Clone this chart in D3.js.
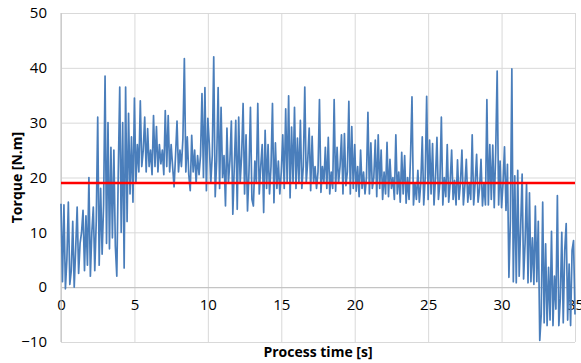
<!DOCTYPE html>
<html>
<head>
<meta charset="utf-8">
<script src="https://cdn.jsdelivr.net/npm/d3@7"></script>
<style>
  html, body { margin: 0; padding: 0; background: #fff; }
  svg { display: block; }
  text { font-family: "Open Sans", "Liberation Sans", sans-serif; fill: #000; }
</style>
</head>
<body>
<svg id="chart" width="581" height="363"></svg>
<script>
// ---- data ----
const sampleStep = 0.1; // seconds between samples
const torque = [
  15.2, 1, 15, -0.3, 5, 15.5, 0.5, 3, 12, 0,
  7, 14.6, 2.5, 8, 10, 14, 3, 13, 4, 20,
  2, 10, 14.6, 3, 12, 31, 4, 18, 6, 15,
  38.5, 8, 30, 7, 25.5, 9, 25, 7.5, 2, 21,
  36.5, 10, 30, 3.5, 36.5, 12, 31.7, 17, 27.4, 15.5,
  34.5, 19, 26, 21, 34, 22, 25, 31, 21, 28.9,
  22, 25, 20.5, 31.3, 22, 29.3, 21, 26, 22.5, 25,
  20.5, 32.2, 22, 31.3, 21, 26, 22, 18.3, 24, 30.3,
  21, 25, 22, 27, 41.7, 21, 27.4, 20.5, 17.6, 27.7,
  21, 25, 19, 24, 20.5, 24, 35.3, 20, 36.4, 17.6,
  30.8, 26, 19, 24, 42, 16.5, 23, 36.4, 18, 32.8,
  20, 24, 14.8, 29, 19, 23, 30.3, 13.3, 22, 30.4,
  14.2, 31, 19, 24, 33.5, 17, 27.8, 13.9, 21, 32.8,
  16, 14.8, 23, 19, 33.5, 17, 22, 26, 13.6, 28.6,
  18, 26, 17, 22, 33.5, 15.4, 26.3, 18, 23, 17,
  21, 27.8, 18, 32.5, 19, 34.9, 16.3, 29.2, 19, 32.8,
  18, 27.2, 19, 30.4, 18, 22, 36.5, 19, 23, 29,
  17.6, 27.5, 19, 22, 18, 21, 34.2, 17.3, 22, 19,
  25.5, 18, 27.3, 17, 21, 18, 34.2, 17.5, 25.5, 19,
  22, 27.8, 17, 28, 18.5, 21, 33.9, 17, 29.3, 18,
  26, 17.5, 22, 16.5, 25, 18, 21, 17, 20, 31.9,
  17, 26.3, 18, 20, 26.8, 16.5, 27.8, 18, 25, 16,
  21, 17, 26.4, 16.5, 23.3, 18, 20, 16, 27.8, 17,
  21, 15.5, 24.6, 17, 24, 15.3, 20, 16, 23.8, 34.7,
  15, 19, 16, 21.3, 15.5, 19, 27.4, 15, 20, 34.8,
  16, 26.8, 17, 26.2, 15, 20, 27.3, 16, 19, 31,
  15, 20, 16.5, 26, 15.5, 19, 25, 16, 19.5, 15,
  23.2, 16, 19, 25, 15, 18.5, 23.3, 15.5, 19, 16,
  27.8, 15, 19, 24.2, 15.5, 18, 23.3, 14.8, 19, 15,
  34.2, 15, 26, 16, 25.9, 14.5, 24.6, 39.4, 15, 23,
  14.5, 19, 25.6, 14, 22.4, 1.8, 12, 39.8, 1, 20.3,
  0.8, 21.3, 2, 11, 20.6, 1.5, 8, 19, 0.8, 17.2,
  1, 9, 0.5, 14.8, 1, 12, -9.7, -5, 15.5, -6.5,
  7.9, -7, 3.6, -6, 10.2, -7, 2, -4, 16.7, -7,
  -2, 10, -6.5, 6.7, 11.6, -6, 4.2, -7, 6.7, 8.5,
  -5
];
const referenceTorque = 19;
const xTickValues = [0, 5, 10, 15, 20, 25, 30, 35];
const yTickValues = [-10, 0, 10, 20, 30, 40, 50];
const xTitle = "Process time [s]";
const yTitle = "Torque [N.m]";

// ---- layout ----
const margin = { left: 61, right: 6, top: 13, bottom: 21 };
const W = 581, H = 363;
const innerW = W - margin.left - margin.right;
const innerH = H - margin.top - margin.bottom;

const svg = d3.select("#chart");
const g = svg.append("g").attr("transform", `translate(${margin.left},${margin.top})`);

const x = d3.scaleLinear().domain([0, 35]).range([0, innerW]);
const y = d3.scaleLinear().domain([-10, 50]).range([innerH, 0]);

const gridColor = "#d9d9d9";

// horizontal gridlines + y labels
const yAxis = g.append("g")
  .call(d3.axisLeft(y).tickValues(yTickValues).tickSize(-innerW).tickPadding(14).tickFormat(d3.format("d")));
yAxis.select(".domain").remove();
yAxis.selectAll(".tick line").attr("stroke", gridColor).attr("stroke-width", 1);
yAxis.selectAll(".tick text").style("font-size", "15px");

// vertical gridlines
const xGrid = g.append("g")
  .attr("transform", `translate(0,${innerH})`)
  .call(d3.axisBottom(x).tickValues(xTickValues).tickSize(-innerH).tickFormat(""));
xGrid.select(".domain").remove();
xGrid.selectAll(".tick line").attr("stroke", gridColor).attr("stroke-width", 1);

// x axis at zero
const xAxis = g.append("g")
  .attr("transform", `translate(0,${y(0)})`)
  .call(d3.axisBottom(x).tickValues(xTickValues).tickSize(0).tickPadding(12).tickFormat(d3.format("d")));
xAxis.select(".domain").attr("stroke", "#bfbfbf");
xAxis.selectAll(".tick text").style("font-size", "15px");

// left axis line
g.append("line")
  .attr("x1", x(0)).attr("x2", x(0))
  .attr("y1", 0).attr("y2", innerH)
  .attr("stroke", "#bfbfbf");

// torque line
const line = d3.line()
  .x((d, i) => x(i * sampleStep))
  .y(d => y(d));
g.append("path")
  .datum(torque)
  .attr("fill", "none")
  .attr("stroke", "#4a7ebb")
  .attr("stroke-width", 1.7)
  .attr("stroke-linejoin", "round")
  .attr("d", line);

// reference line
g.append("line")
  .attr("x1", x(0)).attr("x2", x(35))
  .attr("y1", y(referenceTorque)).attr("y2", y(referenceTorque))
  .attr("stroke", "#ff0000")
  .attr("stroke-width", 2.5);

// titles
svg.append("text")
  .attr("x", margin.left + innerW / 2)
  .attr("y", 357)
  .attr("text-anchor", "middle")
  .style("font-size", "14px")
  .style("font-weight", "bold")
  .text(xTitle);

svg.append("text")
  .attr("transform", `translate(22,${margin.top + innerH / 2}) rotate(-90)`)
  .attr("text-anchor", "middle")
  .style("font-size", "14px")
  .style("font-weight", "bold")
  .text(yTitle);
</script>
</body>
</html>
